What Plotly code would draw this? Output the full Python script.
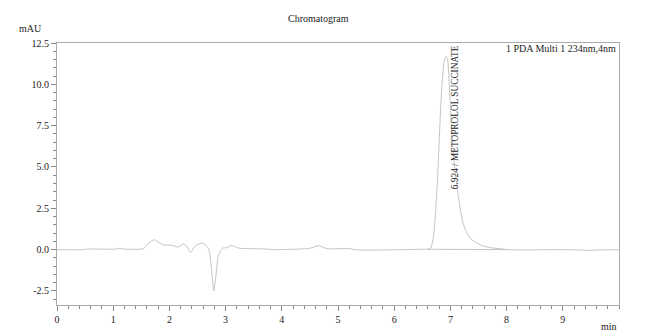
import plotly.graph_objects as go

# Chromatogram trace (time in min, response in mAU)
time_min = [0.0, 0.5, 0.52, 1.05, 1.1, 1.15, 1.2, 1.5, 1.55, 1.62, 1.73, 1.8, 1.9, 2.04,
            2.16, 2.25, 2.3, 2.38, 2.45, 2.58, 2.67, 2.71, 2.75, 2.79, 2.83, 2.87, 2.94,
            3.02, 3.11, 3.2, 3.26, 3.68, 3.86, 4.21, 4.5, 4.66, 4.8, 5.2, 5.34, 6.0, 6.5,
            6.6, 6.65, 6.7, 6.74, 6.77, 6.8, 6.83, 6.86, 6.89, 6.924, 6.95, 6.98, 7.01,
            7.04, 7.08, 7.12, 7.17, 7.21, 7.28, 7.36, 7.47, 7.6, 7.75, 7.9, 8.0, 8.4,
            8.8, 9.3, 9.5, 9.6, 10.0]
signal_mau = [0.0, 0.0, 0.03, 0.03, 0.07, 0.05, 0.03, 0.03, 0.08, 0.35, 0.6, 0.45, 0.28, 0.26,
              0.16, 0.36, 0.25, -0.18, 0.2, 0.4, 0.2, -0.1, -1.2, -2.5, -1.5, -0.4, 0.08,
              0.12, 0.26, 0.12, 0.08, 0.04, 0.0, 0.02, 0.08, 0.24, 0.06, 0.06, -0.02, -0.01, 0.02,
              0.03, 0.1, 0.8, 2.5, 4.2, 6.5, 8.8, 10.4, 11.4, 11.7, 11.5, 10.0, 8.0,
              6.3, 4.8, 3.7, 2.6, 1.8, 1.1, 0.66, 0.4, 0.2, 0.1, 0.05, 0.0, -0.02,
              0.0, -0.02, -0.05, -0.02, -0.01]

# Integration baseline under the peak
baseline_x = [6.60, 8.00]
baseline_y = [0.02, 0.0]

x_ticks = [0, 1, 2, 3, 4, 5, 6, 7, 8, 9]
y_ticks = [-2.5, 0.0, 2.5, 5.0, 7.5, 10.0, 12.5]

peak_rt = 6.924
peak_label = "6.924 / METOPROLOL SUCCINATE"

FONT = "Liberation Serif, Times New Roman, serif"
LINE = "#c4c4c4"

fig = go.Figure()
fig.add_trace(go.Scatter(x=time_min, y=signal_mau, mode="lines",
                         line=dict(color=LINE, width=1, shape="spline", smoothing=0.6),
                         hoverinfo="skip", showlegend=False))
fig.add_trace(go.Scatter(x=baseline_x, y=baseline_y, mode="lines",
                         line=dict(color=LINE, width=1), hoverinfo="skip", showlegend=False))

fig.update_layout(
    width=671, height=333,
    margin=dict(l=57, r=52, t=43, b=28, autoexpand=False),
    paper_bgcolor="white", plot_bgcolor="white",
    font=dict(family=FONT, size=10, color="#222"),
    showlegend=False,
)
fig.update_xaxes(
    range=[0, 10], tickvals=x_ticks, ticktext=[str(v) for v in x_ticks],
    ticks="outside", ticklen=5, tickcolor="#888", tickwidth=1,
    minor=dict(dtick=0.2, ticks="outside", ticklen=3, tickcolor="#888"),
    showline=True, linecolor="#aaa", linewidth=1, mirror=True,
    showgrid=False, zeroline=False, automargin=False,
    tickfont=dict(family=FONT, size=10, color="#222"),
)
fig.update_yaxes(
    range=[-3.35, 12.5], tickvals=y_ticks, ticktext=[f"{v:.1f}" for v in y_ticks],
    ticks="outside", ticklen=5, tickcolor="#888", tickwidth=1,
    minor=dict(dtick=0.5, ticks="outside", ticklen=3, tickcolor="#888"),
    showline=True, linecolor="#aaa", linewidth=1, mirror=True,
    showgrid=False, zeroline=False, automargin=False,
    tickfont=dict(family=FONT, size=10, color="#222"),
)

fig.add_annotation(text="Chromatogram", xref="paper", yref="paper", x=0.465, y=1,
                   yshift=25, xanchor="center", yanchor="middle", showarrow=False,
                   font=dict(family=FONT, size=10, color="#222"))
fig.add_annotation(text="mAU", xref="paper", yref="paper", x=0, xshift=-40, y=1, yshift=15,
                   xanchor="left", yanchor="middle", showarrow=False,
                   font=dict(family=FONT, size=10, color="#222"))
fig.add_annotation(text="min", xref="paper", yref="paper", x=1, y=0, yshift=-21,
                   xanchor="right", yanchor="middle", showarrow=False,
                   font=dict(family=FONT, size=10, color="#222"))
fig.add_annotation(text="1 PDA Multi 1 234nm,4nm", xref="paper", yref="paper", x=1, y=1,
                   xshift=-1, yshift=-5, xanchor="right", yanchor="middle", showarrow=False,
                   font=dict(family=FONT, size=10, color="#222"))
fig.add_annotation(text=peak_label, x=peak_rt, xshift=9, y=12.5, xref="x", yref="y",
                   textangle=-90, xanchor="center", yanchor="top", showarrow=False,
                   font=dict(family=FONT, size=9.3, color="#222"))

fig.write_html("out.html")
